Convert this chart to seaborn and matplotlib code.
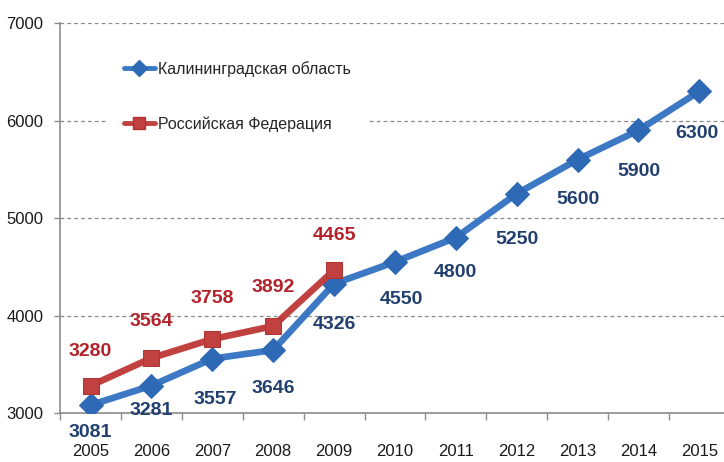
import numpy as np
import pandas as pd
import seaborn as sns
import matplotlib.pyplot as plt
from matplotlib.lines import Line2D

# data
years = ["2005", "2006", "2007", "2008", "2009", "2010",
         "2011", "2012", "2013", "2014", "2015"]
kaliningrad = [3081, 3281, 3557, 3646, 4326, 4550, 4800, 5250, 5600, 5900, 6300]
russia_years = ["2005", "2006", "2007", "2008", "2009"]
russia = [3280, 3564, 3758, 3892, 4465]
names = ["Калининградская область", "Российская Федерация"]

blue = "#3C78C3"
blue_dark = "#2E69B5"
blue_txt = "#22406F"
red = "#C0413F"
red_txt = "#B3222A"
font = ["Liberation Sans", "DejaVu Sans"]

sns.set_theme(style="white")
plt.rcParams["font.family"] = font

kal = pd.DataFrame({"pos": range(len(years)), "value": kaliningrad})
rus = pd.DataFrame({"pos": range(len(russia_years)), "value": russia})

fig = plt.figure(figsize=(7.24, 4.62), dpi=100)
ax = fig.add_axes([0.083, 0.106, 0.925, 0.844])

sns.lineplot(data=kal, x="pos", y="value", color=blue, lw=4.8, marker="D",
             markersize=12, markerfacecolor=blue_dark, markeredgecolor=blue_dark,
             ax=ax, zorder=3)
sns.lineplot(data=rus, x="pos", y="value", color=red, lw=4.8, marker="s",
             markersize=12, markerfacecolor=red, markeredgecolor="#B03532",
             ax=ax, zorder=4)

# value labels (offsets in points)
blue_off = [(0, -20), (0, -18), (2, -29), (0, -28), (0, -29), (5, -27),
            (0, -25), (0, -33), (0, -29), (0, -30), (-2, -30)]
for i, v in enumerate(kaliningrad):
    ax.annotate(str(v), (i, v), xytext=blue_off[i], textcoords="offset points",
                ha="center", va="center", fontsize=14, fontweight="bold",
                color=blue_txt, zorder=5)
red_off = [(0, 25), (0, 26), (0, 29), (0, 28), (0, 25)]
for i, v in enumerate(russia):
    ax.annotate(str(v), (i, v), xytext=red_off[i], textcoords="offset points",
                ha="center", va="center", fontsize=14, fontweight="bold",
                color=red_txt, zorder=5)

ax.set_ylim(3000, 7000)
ax.set_xlim(-0.5, 10.45)
ax.set_yticks([3000, 4000, 5000, 6000, 7000])
ax.set_xticks(range(len(years)))
ax.set_xticklabels(years)
ax.set_xticks(np.arange(-0.5, 11, 1), minor=True)
ax.set_xlabel("")
ax.set_ylabel("")

ax.yaxis.grid(True, color="#888888", linestyle=(0, (3, 2.5)), lw=0.9)
ax.xaxis.grid(False)
ax.set_axisbelow(True)
for s in ["top", "right"]:
    ax.spines[s].set_visible(False)
for s in ["left", "bottom"]:
    ax.spines[s].set_color("#8C8C8C")
    ax.spines[s].set_linewidth(1.2)

ax.tick_params(axis="x", which="major", length=0, pad=22, labelsize=12,
               labelcolor="#1A1A1A")
ax.tick_params(axis="x", which="minor", bottom=True, length=5, width=1,
               color="#8C8C8C", direction="out")
ax.tick_params(axis="y", left=True, length=4, width=1, color="#8C8C8C",
               pad=8, labelsize=12, labelcolor="#1A1A1A")

handles = [
    Line2D([], [], color=blue, lw=3.5, marker="D", markersize=8,
           markerfacecolor=blue_dark, markeredgecolor=blue_dark),
    Line2D([], [], color=red, lw=3.5, marker="s", markersize=8,
           markerfacecolor=red, markeredgecolor="#B03532"),
]
leg = ax.legend(handles, names, loc="upper left", bbox_to_anchor=(0.06, 0.965),
                fontsize=11.5, handlelength=1.9, handletextpad=0.2,
                labelspacing=2.5, borderpad=1.0, frameon=True, fancybox=False)
leg.get_frame().set_facecolor("white")
leg.get_frame().set_edgecolor("none")
leg.get_frame().set_alpha(1)
leg.set_zorder(6)

fig.savefig("out.png", dpi=100)
